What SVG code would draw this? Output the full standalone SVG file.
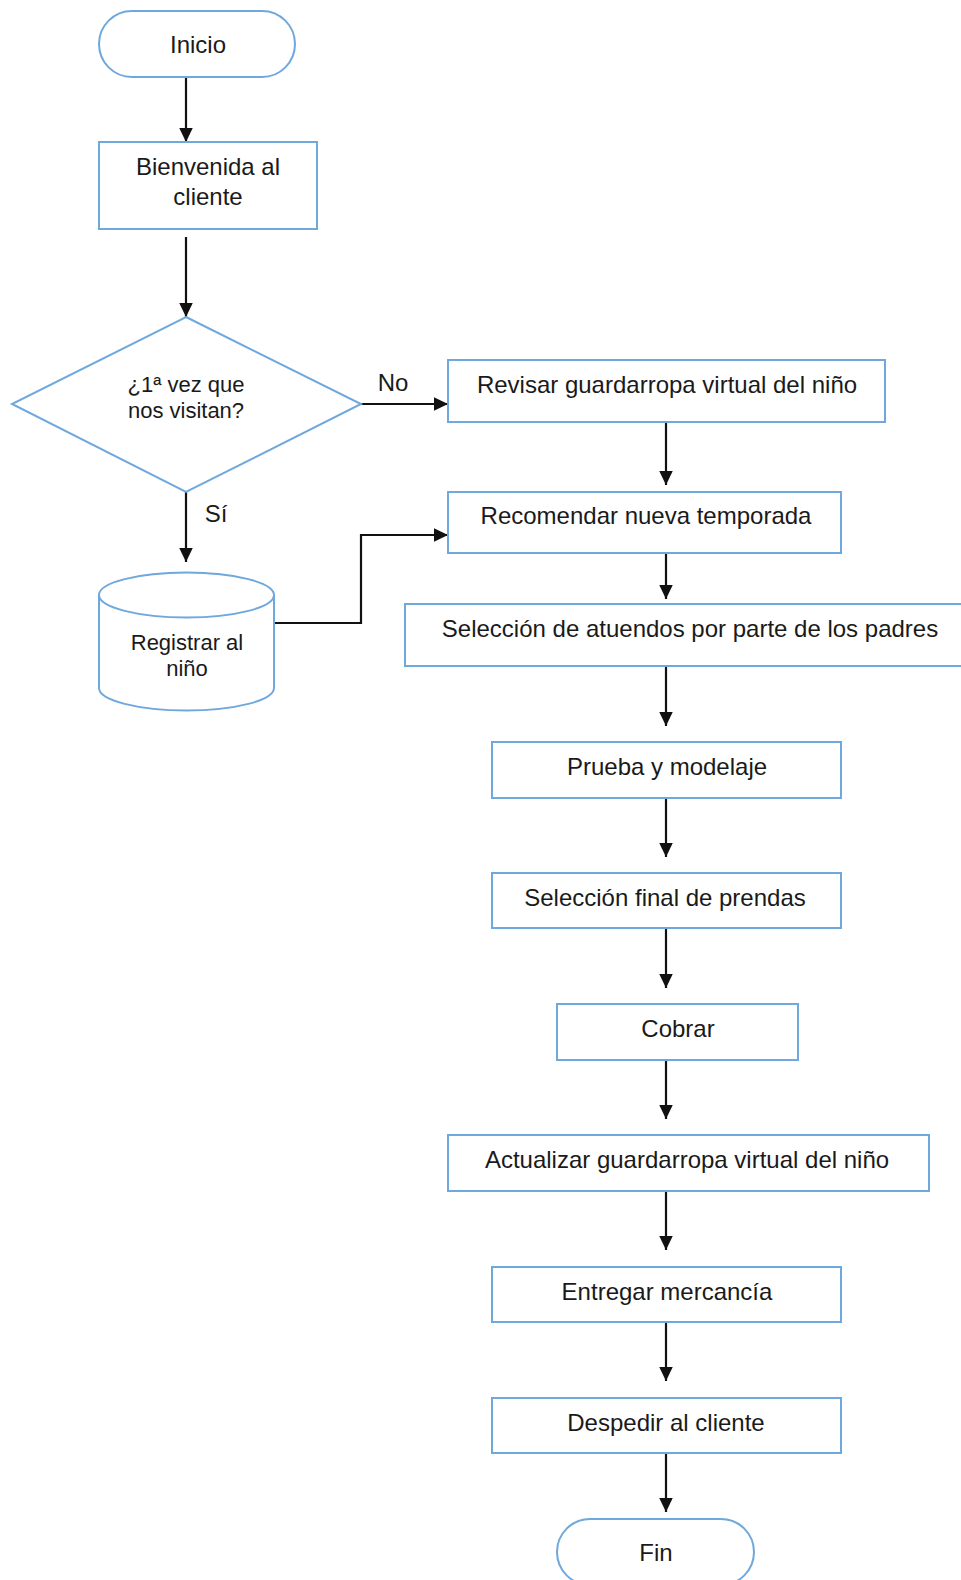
<svg xmlns="http://www.w3.org/2000/svg" width="961" height="1580" viewBox="0 0 961 1580">
<style>
.n{fill:#fff;stroke:#6fa8dc;stroke-width:2}
.t{font-family:"Liberation Sans",Arial,sans-serif;font-size:24px;fill:#1a1a1a;text-anchor:middle}
.s{font-size:22px}
.c{fill:none;stroke:#111;stroke-width:2.2}
</style>
<defs>
<marker id="ah" markerUnits="userSpaceOnUse" markerWidth="15" markerHeight="15" refX="14.5" refY="7" orient="auto"><path d="M0,0 L14.5,7 L0,14 z" fill="#111"/></marker>
</defs>
<rect width="961" height="1580" fill="#fff"/>
<g id="connectors">
<path class="c" d="M186,77 V142" marker-end="url(#ah)"/>
<path class="c" d="M186,237 V317" marker-end="url(#ah)"/>
<path class="c" d="M361,404 H448" marker-end="url(#ah)"/>
<path class="c" d="M186,492 V562" marker-end="url(#ah)"/>
<path class="c" d="M274,623 H361 V535 H448" marker-end="url(#ah)"/>
<path class="c" d="M666,422 V485" marker-end="url(#ah)"/>
<path class="c" d="M666,553 V599" marker-end="url(#ah)"/>
<path class="c" d="M666,666 V726" marker-end="url(#ah)"/>
<path class="c" d="M666,798 V857" marker-end="url(#ah)"/>
<path class="c" d="M666,928 V988" marker-end="url(#ah)"/>
<path class="c" d="M666,1060 V1119" marker-end="url(#ah)"/>
<path class="c" d="M666,1191 V1250" marker-end="url(#ah)"/>
<path class="c" d="M666,1322 V1381" marker-end="url(#ah)"/>
<path class="c" d="M666,1453 V1512" marker-end="url(#ah)"/>
<text class="t" x="393" y="391">No</text>
<text class="t" x="216" y="522">Sí</text>
</g>
<g id="inicio">
<rect class="n" x="99" y="11" width="196" height="66" rx="33"/>
<text class="t" x="198" y="53">Inicio</text>
</g>
<g id="bienvenida">
<rect class="n" x="99" y="142" width="218" height="87"/>
<text class="t" x="208" y="175">Bienvenida al</text>
<text class="t" x="208" y="205">cliente</text>
</g>
<g id="decision">
<polygon class="n" points="186,317 361,404 186,492 12,404"/>
<text class="t s" x="186" y="392">¿1ª vez que</text>
<text class="t s" x="186" y="418">nos visitan?</text>
</g>
<g id="registrar">
<path class="n" d="M99,595 V688 A87.5,22.5 0 0 0 274,688 V595 A87.5,22.5 0 0 0 99,595 z"/>
<path class="n" d="M99,595 A87.5,22.5 0 0 0 274,595" fill="none"/>
<text class="t s" x="187" y="650">Registrar al</text>
<text class="t s" x="187" y="676">niño</text>
</g>
<g id="revisar">
<rect class="n" x="448" y="360" width="437" height="62"/>
<text class="t" x="667" y="393">Revisar guardarropa virtual del niño</text>
</g>
<g id="recomendar">
<rect class="n" x="448" y="492" width="393" height="61"/>
<text class="t" x="646" y="524">Recomendar nueva temporada</text>
</g>
<g id="seleccion-atuendos">
<rect class="n" x="405" y="604" width="570" height="62"/>
<text class="t" x="690" y="637">Selección de atuendos por parte de los padres</text>
</g>
<g id="prueba">
<rect class="n" x="492" y="742" width="349" height="56"/>
<text class="t" x="667" y="775">Prueba y modelaje</text>
</g>
<g id="seleccion-final">
<rect class="n" x="492" y="873" width="349" height="55"/>
<text class="t" x="665" y="906">Selección final de prendas</text>
</g>
<g id="cobrar">
<rect class="n" x="557" y="1004" width="241" height="56"/>
<text class="t" x="678" y="1037">Cobrar</text>
</g>
<g id="actualizar">
<rect class="n" x="448" y="1135" width="481" height="56"/>
<text class="t" x="687" y="1168">Actualizar guardarropa virtual del niño</text>
</g>
<g id="entregar">
<rect class="n" x="492" y="1267" width="349" height="55"/>
<text class="t" x="667" y="1300">Entregar mercancía</text>
</g>
<g id="despedir">
<rect class="n" x="492" y="1398" width="349" height="55"/>
<text class="t" x="666" y="1431">Despedir al cliente</text>
</g>
<g id="fin">
<rect class="n" x="557" y="1519" width="197" height="66" rx="33"/>
<text class="t" x="656" y="1561">Fin</text>
</g>
</svg>
